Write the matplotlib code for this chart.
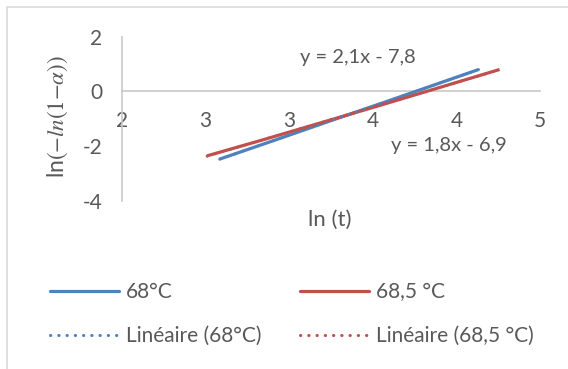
import numpy as np
import matplotlib
matplotlib.use("Agg")
import matplotlib.pyplot as plt
from matplotlib.lines import Line2D
from matplotlib.patches import Rectangle

# values
x_68 = [2.70, 3.10, 3.50, 3.90, 4.30, 4.56]
y_68 = [-2.48, -1.78, -1.07, -0.37, 0.34, 0.80]
x_685 = [2.61, 3.00, 3.40, 3.80, 4.20, 4.71]
y_685 = [-2.36, -1.79, -1.19, -0.59, 0.02, 0.80]

series_names = ["68°C", "68,5 °C"]
trend_names = ["Linéaire (68°C)", "Linéaire (68,5 °C)"]
equations = ["y = 2,1x - 7,8", "y = 1,8x - 6,9"]

x_ticks = [2.0, 2.6, 3.2, 3.8, 4.4, 5.0]
x_ticklabels = ["2", "3", "3", "4", "4", "5"]
y_ticks = [-4, -2, 0, 2]

BLUE = "#4F81BD"
RED = "#C0504D"
GREY = "#595959"
AXIS = "#C8C8C8"

plt.rcParams["font.family"] = ["Lato", "DejaVu Sans"]
plt.rcParams["mathtext.fontset"] = "stix"
plt.rcParams["axes.unicode_minus"] = False

W, H = 568, 369
fig = plt.figure(figsize=(W / 100, H / 100), dpi=100)

# chart frame (cropped on the right and bottom)
fig.patches.append(Rectangle((7 / W, -0.1), 1.2, 1.1 - 7 / H, transform=fig.transFigure,
                             fill=False, edgecolor="#D9D9D9", lw=1.2))

ax = fig.add_axes([122 / W, 1 - 200.7 / H, (540 - 122) / W, (200.7 - 36.7) / H])
ax.set_xlim(2, 5)
ax.set_ylim(-4, 2)
ax.patch.set_alpha(0)

for s in ["top", "right"]:
    ax.spines[s].set_visible(False)
ax.spines["bottom"].set_position(("data", 0))
ax.spines["left"].set_color(AXIS)
ax.spines["bottom"].set_color(AXIS)
ax.spines["left"].set_linewidth(1.2)
ax.spines["bottom"].set_linewidth(1.2)

ax.set_xticks(x_ticks)
ax.set_xticklabels(x_ticklabels)
ax.set_yticks(y_ticks)
ax.tick_params(length=0, colors=GREY, labelsize=15)
ax.tick_params(axis="x", pad=14)
ax.tick_params(axis="y", pad=14)

# data lines
ax.plot(x_68, y_68, color=BLUE, lw=2.3, solid_capstyle="butt", zorder=3)
ax.plot(x_685, y_685, color=RED, lw=2.3, solid_capstyle="butt", zorder=3)

# linear trend lines
for xs, ys, c in [(x_68, y_68, BLUE), (x_685, y_685, RED)]:
    p = np.polyfit(xs, ys, 1)
    xx = np.array([min(xs), max(xs)])
    ax.plot(xx, np.polyval(p, xx), color=c, lw=2, linestyle=(0, (0.1, 2.8)),
            dash_capstyle="round", zorder=4)

fig.text(357.5 / W, 1 - 57 / H, equations[0], ha="center", va="center",
         color=GREY, fontsize=14.5)
fig.text(449 / W, 1 - 145 / H, equations[1], ha="center", va="center",
         color=GREY, fontsize=14.5)

fig.text(58 / W, 1 - 117 / H, r"ln$({-}ln(1{-}\alpha))$", rotation=90,
         ha="center", va="center", color=GREY, fontsize=16.5)
fig.text(330 / W, 1 - 220 / H, "ln (t)", ha="center", va="center",
         color=GREY, fontsize=16)

# legend, one column per temperature
fs = 15
for i, c in enumerate([BLUE, RED]):
    handles = [
        Line2D([], [], color=c, lw=2.3, solid_capstyle="round"),
        Line2D([], [], color=c, lw=2.2, linestyle=(0, (0.1, 2.6)), dash_capstyle="round"),
    ]
    x0 = [50, 300][i]
    fig.legend(handles, [series_names[i], trend_names[i]], loc="upper left",
               bbox_to_anchor=(x0 / W, 1 - 282 / H), frameon=False,
               fontsize=fs, handlelength=3.3, handletextpad=0.34,
               labelspacing=1.16, borderpad=0, borderaxespad=0,
               labelcolor=GREY)

fig.savefig("out.png", dpi=100)
